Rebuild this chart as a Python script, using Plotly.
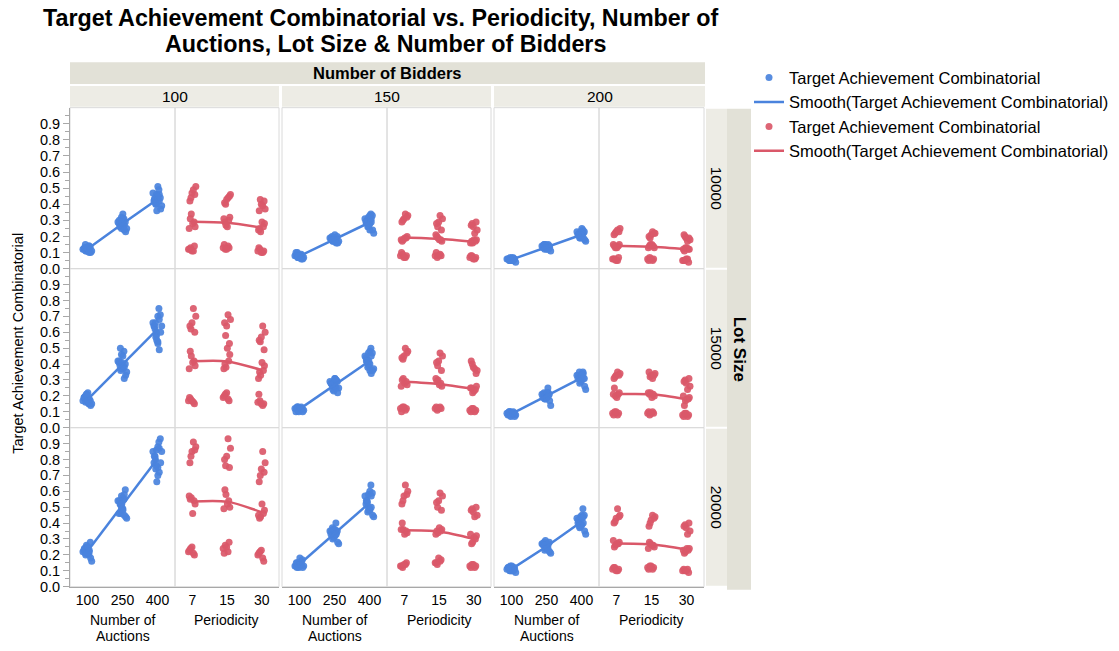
import plotly.graph_objects as go

W, H = 1119, 651

# ---------------- data ----------------
bidders = ["100", "150", "200"]
lot_sizes = ["10000", "15000", "20000"]
auctions = ["100", "250", "400"]
periodicity = ["7", "15", "30"]

# Target Achievement Combinatorial, indexed [auctions][periodicity] -> replicates
b100_l10000 = [
    [[0.12, 0.11, 0.13, 0.14, 0.12, 0.11], [0.13, 0.14, 0.12, 0.13, 0.15, 0.12], [0.11, 0.10, 0.12, 0.11, 0.13, 0.10]],
    [[0.29, 0.34, 0.26, 0.31, 0.28, 0.25], [0.30, 0.27, 0.32, 0.29, 0.26, 0.31], [0.26, 0.23, 0.28, 0.25, 0.29, 0.24]],
    [[0.47, 0.51, 0.44, 0.49, 0.42, 0.46], [0.43, 0.46, 0.40, 0.44, 0.41, 0.45], [0.40, 0.37, 0.43, 0.39, 0.36, 0.42]],
]
b100_l15000 = [
    [[0.17, 0.16, 0.18, 0.15, 0.19, 0.17], [0.19, 0.18, 0.21, 0.17, 0.20, 0.22], [0.16, 0.14, 0.17, 0.15, 0.21, 0.15]],
    [[0.42, 0.45, 0.39, 0.48, 0.41, 0.37], [0.42, 0.38, 0.46, 0.40, 0.50, 0.37], [0.36, 0.33, 0.39, 0.35, 0.41, 0.31]],
    [[0.66, 0.70, 0.62, 0.75, 0.64, 0.60], [0.64, 0.68, 0.58, 0.71, 0.66, 0.53], [0.57, 0.60, 0.54, 0.64, 0.55, 0.49]],
]
b100_l20000 = [
    [[0.22, 0.21, 0.24, 0.20, 0.23, 0.25], [0.24, 0.22, 0.26, 0.28, 0.21, 0.25], [0.20, 0.18, 0.22, 0.16, 0.21, 0.23]],
    [[0.54, 0.56, 0.52, 0.55, 0.46, 0.57], [0.54, 0.58, 0.50, 0.61, 0.52, 0.49], [0.46, 0.44, 0.48, 0.43, 0.52, 0.45]],
    [[0.85, 0.88, 0.82, 0.91, 0.78, 0.86], [0.82, 0.87, 0.76, 0.93, 0.80, 0.75], [0.74, 0.78, 0.70, 0.85, 0.66, 0.72]],
]
b150_l10000 = [
    [[0.08, 0.07, 0.09, 0.08, 0.10, 0.07], [0.08, 0.09, 0.07, 0.08, 0.10, 0.08], [0.07, 0.06, 0.08, 0.07, 0.08, 0.06]],
    [[0.19, 0.18, 0.20, 0.17, 0.19, 0.18], [0.18, 0.19, 0.17, 0.20, 0.18, 0.21], [0.17, 0.16, 0.18, 0.17, 0.18, 0.16]],
    [[0.31, 0.33, 0.30, 0.34, 0.29, 0.32], [0.29, 0.31, 0.26, 0.33, 0.28, 0.24], [0.26, 0.24, 0.28, 0.22, 0.27, 0.29]],
]
b150_l15000 = [
    [[0.12, 0.11, 0.13, 0.12, 0.10, 0.13], [0.12, 0.13, 0.11, 0.12, 0.13, 0.12], [0.11, 0.10, 0.12, 0.11, 0.10, 0.12]],
    [[0.29, 0.31, 0.27, 0.30, 0.28, 0.26], [0.28, 0.30, 0.26, 0.29, 0.27, 0.31], [0.24, 0.22, 0.26, 0.25, 0.23, 0.25]],
    [[0.45, 0.48, 0.43, 0.50, 0.44, 0.47], [0.42, 0.45, 0.39, 0.47, 0.41, 0.36], [0.38, 0.36, 0.40, 0.37, 0.42, 0.34]],
]
b150_l20000 = [
    [[0.13, 0.14, 0.12, 0.15, 0.13, 0.14], [0.15, 0.16, 0.14, 0.17, 0.15, 0.18], [0.13, 0.12, 0.14, 0.13, 0.12, 0.14]],
    [[0.35, 0.36, 0.34, 0.40, 0.33, 0.36], [0.35, 0.34, 0.36, 0.35, 0.37, 0.33], [0.30, 0.28, 0.32, 0.27, 0.31, 0.33]],
    [[0.57, 0.60, 0.54, 0.64, 0.52, 0.58], [0.54, 0.57, 0.50, 0.59, 0.53, 0.48], [0.47, 0.45, 0.49, 0.44, 0.48, 0.50]],
]
b200_l10000 = [
    [[0.06, 0.05, 0.06, 0.07, 0.06, 0.05], [0.06, 0.05, 0.07, 0.06, 0.05, 0.06], [0.05, 0.06, 0.05, 0.04, 0.05, 0.06]],
    [[0.14, 0.13, 0.15, 0.14, 0.13, 0.15], [0.14, 0.15, 0.13, 0.14, 0.15, 0.13], [0.12, 0.13, 0.12, 0.11, 0.13, 0.12]],
    [[0.23, 0.25, 0.22, 0.24, 0.21, 0.23], [0.21, 0.22, 0.19, 0.23, 0.20, 0.22], [0.19, 0.18, 0.20, 0.17, 0.21, 0.19]],
]
b200_l15000 = [
    [[0.09, 0.08, 0.10, 0.09, 0.08, 0.10], [0.09, 0.10, 0.08, 0.09, 0.10, 0.09], [0.08, 0.07, 0.09, 0.08, 0.07, 0.09]],
    [[0.21, 0.20, 0.22, 0.25, 0.19, 0.21], [0.21, 0.22, 0.20, 0.21, 0.19, 0.22], [0.18, 0.17, 0.19, 0.14, 0.18, 0.20]],
    [[0.33, 0.34, 0.32, 0.35, 0.31, 0.33], [0.33, 0.34, 0.32, 0.31, 0.35, 0.33], [0.28, 0.26, 0.30, 0.24, 0.29, 0.31]],
]
b200_l20000 = [
    [[0.11, 0.10, 0.12, 0.11, 0.12, 0.10], [0.12, 0.11, 0.13, 0.12, 0.11, 0.13], [0.10, 0.11, 0.10, 0.09, 0.11, 0.10]],
    [[0.27, 0.26, 0.28, 0.25, 0.27, 0.29], [0.26, 0.27, 0.25, 0.28, 0.26, 0.24], [0.23, 0.22, 0.24, 0.21, 0.24, 0.23]],
    [[0.43, 0.45, 0.41, 0.49, 0.40, 0.44], [0.42, 0.44, 0.40, 0.45, 0.38, 0.43], [0.37, 0.35, 0.39, 0.33, 0.38, 0.40]],
]

DATA = {
    ("100", "10000"): b100_l10000, ("100", "15000"): b100_l15000, ("100", "20000"): b100_l20000,
    ("150", "10000"): b150_l10000, ("150", "15000"): b150_l15000, ("150", "20000"): b150_l20000,
    ("200", "10000"): b200_l10000, ("200", "15000"): b200_l15000, ("200", "20000"): b200_l20000,
}

# ---------------- style ----------------
BLUE = "#4A83DD"
RED = "#DA5869"
FONT = "Liberation Sans, Arial, Helvetica, sans-serif"
STRIP_DARK = "#E2E1D7"
STRIP_LIGHT = "#EDECE5"
BORDER = "#DADADA"
AXIS = "#A8A8A8"

JIT = [-0.09, 0.05, -0.03, 0.08, -0.06, 0.01]     # x jitter per replicate
SUB_OFF = [-0.04, 0.0, 0.04]                     # small offset per subgroup

cols_px = [(70, 175), (175, 279), (282, 387), (387, 491), (494, 599), (599, 704)]
rows_px = [(109, 272), (272, 433), (433, 594)]


def px_x(x):
    return x / W


def px_y(y):
    return 1 - y / H


fig = go.Figure()
layout = dict(
    width=W, height=H, margin=dict(l=0, r=0, t=0, b=0),
    paper_bgcolor="white", plot_bgcolor="white",
    font=dict(family=FONT, size=14, color="black"),
    showlegend=True,
)
shapes = []
annotations = []

shown = {"bp": False, "bs": False, "rp": False, "rs": False}
MS = 7

for li, lot in enumerate(lot_sizes):
    for bi, bid in enumerate(bidders):
        vals = DATA[(bid, lot)]
        for part in range(2):
            ci = 2 * bi + part
            k = li * 6 + ci + 1
            xa = "x" if k == 1 else f"x{k}"
            ya = "y" if k == 1 else f"y{k}"
            xs, ys = [], []
            if part == 0:
                for a in range(3):
                    for p in range(3):
                        for r, v in enumerate(vals[a][p]):
                            xs.append(a + JIT[r] + SUB_OFF[p])
                            ys.append(v)
                means = []
                for a in range(3):
                    allv = [v for p in range(3) for v in vals[a][p]]
                    means.append(sum(allv) / len(allv))
                fig.add_trace(go.Scatter(
                    x=xs, y=ys, mode="markers", xaxis=xa, yaxis=ya,
                    marker=dict(color=BLUE, size=MS, opacity=0.92),
                    name="Target Achievement Combinatorial", legendgroup="bp",
                    showlegend=not shown["bp"], legendrank=1))
                shown["bp"] = True
                fig.add_trace(go.Scatter(
                    x=[0, 1, 2], y=means, mode="lines", xaxis=xa, yaxis=ya,
                    line=dict(color=BLUE, width=2.5),
                    name="Smooth(Target Achievement Combinatorial)", legendgroup="bs",
                    showlegend=not shown["bs"], legendrank=2))
                shown["bs"] = True
            else:
                for p in range(3):
                    for a in range(3):
                        for r, v in enumerate(vals[a][p]):
                            xs.append(p + JIT[(r + a) % 6] + SUB_OFF[a] * 0.5)
                            ys.append(v)
                means = []
                for p in range(3):
                    allv = [v for a in range(3) for v in vals[a][p]]
                    means.append(sum(allv) / len(allv))
                fig.add_trace(go.Scatter(
                    x=xs, y=ys, mode="markers", xaxis=xa, yaxis=ya,
                    marker=dict(color=RED, size=MS, opacity=0.92),
                    name="Target Achievement Combinatorial", legendgroup="rp",
                    showlegend=not shown["rp"], legendrank=3))
                shown["rp"] = True
                fig.add_trace(go.Scatter(
                    x=[0, 1, 2], y=means, mode="lines", xaxis=xa, yaxis=ya,
                    line=dict(color=RED, width=2.5, shape="spline", smoothing=0.8),
                    name="Smooth(Target Achievement Combinatorial)", legendgroup="rs",
                    showlegend=not shown["rs"], legendrank=4))
                shown["rs"] = True

            x0, x1 = cols_px[ci]
            y0, y1 = rows_px[li]
            bottom = li == 2
            left = ci == 0
            xkey = "xaxis" if k == 1 else f"xaxis{k}"
            ykey = "yaxis" if k == 1 else f"yaxis{k}"
            layout[xkey] = dict(
                domain=[px_x(x0), px_x(x1)], anchor=ya, range=[-0.5, 2.5],
                tickvals=[0, 1, 2],
                ticktext=auctions if part == 0 else periodicity,
                showticklabels=bottom, ticks="", showgrid=False, zeroline=False,
                showline=bottom, linecolor=AXIS, linewidth=1,
                tickfont=dict(size=14, family=FONT), fixedrange=True,
            )
            ydict = dict(
                domain=[px_y(y1), px_y(y0)], anchor=xa, range=[0, 1.0],
                tickvals=[i / 10 for i in range(10)],
                ticktext=[f"{i / 10:.1f}" for i in range(10)],
                showticklabels=left, ticks="outside" if left else "",
                ticklen=6, tickcolor=AXIS, tickwidth=1,
                showgrid=False, zeroline=False,
                showline=left, linecolor=AXIS, linewidth=1,
                tickfont=dict(size=14.5, family=FONT), fixedrange=True,
            )
            if left:
                ydict["minor"] = dict(tickvals=[i / 20 for i in range(1, 20, 2)], ticks="outside",
                                      ticklen=4, tickcolor=AXIS)
            layout[ykey] = ydict
            # panel border
            shapes.append(dict(type="rect", xref="paper", yref="paper",
                               x0=px_x(x0), x1=px_x(x1), y0=px_y(y1), y1=px_y(y0),
                               line=dict(color=BORDER, width=1), fillcolor="rgba(0,0,0,0)",
                               layer="below"))

# header strips
shapes.append(dict(type="rect", xref="paper", yref="paper", x0=px_x(70), x1=px_x(705),
                   y0=px_y(85), y1=px_y(63), fillcolor=STRIP_DARK, line=dict(width=0)))
annotations.append(dict(text="<b>Number of Bidders</b>", x=px_x(387), y=px_y(74), xref="paper", yref="paper",
                        showarrow=False, font=dict(size=16.5, family=FONT), xanchor="center", yanchor="middle"))
for bi, bid in enumerate(bidders):
    gx0 = cols_px[2 * bi][0]
    gx1 = cols_px[2 * bi + 1][1] + (1 if bi == 2 else 0)
    shapes.append(dict(type="rect", xref="paper", yref="paper", x0=px_x(gx0), x1=px_x(gx1),
                       y0=px_y(108), y1=px_y(87), fillcolor=STRIP_LIGHT, line=dict(width=0)))
    annotations.append(dict(text=bid, x=px_x((gx0 + gx1) / 2), y=px_y(98), xref="paper", yref="paper",
                            showarrow=False, font=dict(size=15.5, family=FONT), xanchor="center", yanchor="middle"))

# right strips
for li, lot in enumerate(lot_sizes):
    y0, y1 = rows_px[li]
    shapes.append(dict(type="rect", xref="paper", yref="paper", x0=px_x(706), x1=px_x(727),
                       y0=px_y(y1 - 1), y1=px_y(y0 + 1), fillcolor=STRIP_LIGHT, line=dict(width=0)))
    annotations.append(dict(text=lot, x=px_x(716.5), y=px_y((y0 + y1) / 2), xref="paper", yref="paper",
                            showarrow=False, textangle=90, font=dict(size=15.5, family=FONT),
                            xanchor="center", yanchor="middle"))
shapes.append(dict(type="rect", xref="paper", yref="paper", x0=px_x(727), x1=px_x(751),
                   y0=px_y(597), y1=px_y(110), fillcolor=STRIP_DARK, line=dict(width=0)))
annotations.append(dict(text="<b>Lot Size</b>", x=px_x(739), y=px_y(353), xref="paper", yref="paper",
                        showarrow=False, textangle=90, font=dict(size=17, family=FONT),
                        xanchor="center", yanchor="middle"))

# axis titles
annotations.append(dict(text="Target Achievement Combinatorial", x=px_x(18), y=px_y(348), xref="paper",
                        yref="paper", showarrow=False, textangle=-90, font=dict(size=14.5, family=FONT),
                        xanchor="center", yanchor="middle"))
for ci in range(6):
    cx = (cols_px[ci][0] + cols_px[ci][1]) / 2
    if ci % 2 == 0:
        annotations.append(dict(text="Number of", x=px_x(cx), y=px_y(628), xref="paper",
                                yref="paper", showarrow=False, font=dict(size=14, family=FONT),
                                xanchor="center", yanchor="middle"))
        annotations.append(dict(text="Auctions", x=px_x(cx), y=px_y(644), xref="paper",
                                yref="paper", showarrow=False, font=dict(size=14, family=FONT),
                                xanchor="center", yanchor="middle"))
    else:
        annotations.append(dict(text="Periodicity", x=px_x(cx), y=px_y(628), xref="paper",
                                yref="paper", showarrow=False, font=dict(size=14, family=FONT),
                                xanchor="center", yanchor="middle"))

# title
annotations.append(dict(text="<b>Target Achievement Combinatorial vs. Periodicity, Number of</b>",
                        x=px_x(381), y=px_y(18), xref="paper", yref="paper", showarrow=False,
                        font=dict(size=23.3, family=FONT), xanchor="center", yanchor="middle"))
annotations.append(dict(text="<b>Auctions, Lot Size &amp; Number of Bidders</b>",
                        x=px_x(385), y=px_y(45), xref="paper", yref="paper", showarrow=False,
                        font=dict(size=23.3, family=FONT), xanchor="center", yanchor="middle"))

layout["shapes"] = shapes
layout["annotations"] = annotations
layout["legend"] = dict(x=px_x(749), y=px_y(61), xanchor="left", yanchor="top",
                        font=dict(size=16.5, family=FONT), bgcolor="rgba(0,0,0,0)",
                        tracegroupgap=0, itemwidth=30, traceorder="normal")
fig.update_layout(**layout)
fig.write_html("out.html")
